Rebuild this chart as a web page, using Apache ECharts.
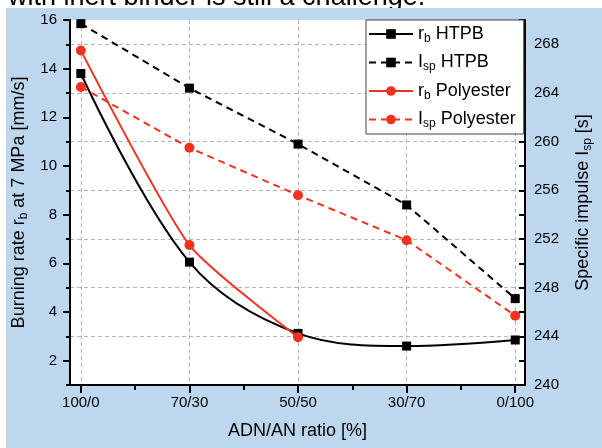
<!DOCTYPE html>
<html><head><meta charset="utf-8">
<script src="https://cdn.jsdelivr.net/npm/echarts@6/dist/echarts.min.js"></script>
<style>html,body{margin:0;padding:0;background:#fff}#c{width:602px;height:448px}</style>
</head><body><div id="c"></div>
<script>
const categories = ['100/0', '70/30', '50/50', '30/70', '0/100'];
const rbHTPB = [13.8, 6.05, 3.12, 2.6, 2.85];
const ispHTPB = [269.7, 264.4, 259.8, 254.8, 247.1];
const rbPoly = [14.75, 6.75, 2.96];
const ispPoly = [264.5, 259.5, 255.6, 251.9, 245.7];
const leftLabels = [2, 4, 6, 8, 10, 12, 14, 16];
const leftMinor = [1, 3, 5, 7, 9, 11, 13, 15];
const rightLabels = [240, 244, 248, 252, 256, 260, 264, 268];
const xMajor = [0, 1, 2, 3, 4];
const xMinor = [0.5, 1.5, 2.5, 3.5];

const FF = "'Liberation Sans', Arial, sans-serif";
const RED = '#f0321e';
const pts = arr => arr.map((v, i) => [i, v]);
const legendNames = {
  'rb HTPB': 'r{s|b} HTPB',
  'Isp HTPB': 'I{s|sp} HTPB',
  'rb Polyester': 'r{s|b} Polyester',
  'Isp Polyester': 'I{s|sp} Polyester'
};
const sub = { fontSize: 12, fontFamily: FF, color: '#000', padding: [9, 0, 0, 0] };

const chart = echarts.init(document.getElementById('c'), null, { renderer: 'canvas' });
chart.setOption({
  animation: false,
  backgroundColor: '#fff',
  graphic: [
    { type: 'text', z: -20, left: 8, top: -16, style: { text: 'with inert binder is still a challenge.', font: '27px ' + FF, fill: '#000' } },
    { type: 'rect', z: -10, shape: { x: 6, y: 8, width: 596, height: 440 }, style: { fill: '#bdd7ee' } }
  ],
  grid: { left: 70, right: 66, top: 20, bottom: 63, show: true, backgroundColor: '#fff', borderWidth: 0 },
  legend: {
    orient: 'vertical', left: 366, top: 20,
    backgroundColor: '#fff', borderColor: '#444', borderWidth: 1,
    padding: [4, 8, 4, 2], itemGap: 8, itemWidth: 44, itemHeight: 12,
    data: ['rb HTPB', 'Isp HTPB', 'rb Polyester', 'Isp Polyester'],
    formatter: n => legendNames[n],
    textStyle: { fontSize: 18, fontFamily: FF, color: '#000', lineHeight: 20, rich: { s: sub } }
  },
  xAxis: [
    {
      type: 'value', min: -0.1, max: 4.09, position: 'bottom',
      name: 'ADN/AN ratio [%]', nameLocation: 'middle', nameGap: 37,
      nameTextStyle: { fontSize: 18, fontFamily: FF, color: '#000' },
      axisLine: { show: true, onZero: false, lineStyle: { color: '#000', width: 2 } },
      axisTick: { show: true, customValues: xMajor, length: 8, lineStyle: { color: '#000', width: 2 } },
      axisLabel: { customValues: xMajor, formatter: v => categories[Math.round(v)], margin: 10, fontSize: 15, fontFamily: FF, color: '#000' },
      splitLine: { show: true, lineStyle: { type: [4, 3], color: '#b5b5b5', width: 1 } }
    },
    {
      type: 'value', min: -0.1, max: 4.09, position: 'bottom',
      axisLine: { show: false, onZero: false },
      axisTick: { show: true, customValues: xMinor, length: 5, lineStyle: { color: '#000', width: 2 } },
      axisLabel: { show: false }, splitLine: { show: false }
    }
  ],
  yAxis: [
    {
      type: 'value', min: 1, max: 16, interval: 1, position: 'left',
      name: 'Burning rate r{s|b} at 7 MPa [mm/s]', nameLocation: 'middle', nameGap: 36, nameRotate: 90,
      nameTextStyle: { fontSize: 18, fontFamily: FF, color: '#000', rich: { s: sub } },
      axisLine: { show: true, onZero: false, lineStyle: { color: '#000', width: 2 } },
      axisTick: { show: true, customValues: leftMinor, length: 4, lineStyle: { color: '#000', width: 2 } },
      axisLabel: { customValues: leftLabels, margin: 13, fontSize: 15, fontFamily: FF, color: '#000' },
      splitLine: { show: true, lineStyle: { type: [4, 3], color: '#b5b5b5', width: 1 } }
    },
    {
      type: 'value', min: 1, max: 16, position: 'left',
      axisLine: { show: false, onZero: false },
      axisTick: { show: true, customValues: leftLabels, length: 7, lineStyle: { color: '#000', width: 2 } },
      axisLabel: { show: false }, splitLine: { show: false }
    },
    {
      type: 'value', min: 240, max: 270, interval: 2, position: 'right',
      name: 'Specific impulse I{s|sp} [s]', nameLocation: 'middle', nameGap: 48, nameRotate: 90,
      nameTextStyle: { fontSize: 18, fontFamily: FF, color: '#000', rich: { s: sub } },
      axisLine: { show: true, onZero: false, lineStyle: { color: '#000', width: 2 } },
      axisTick: { show: true, inside: true, length: 6, lineStyle: { color: '#000', width: 2 } },
      axisLabel: { customValues: rightLabels, margin: 9, fontSize: 15, fontFamily: FF, color: '#000' },
      splitLine: { show: false }
    }
  ],
  series: [
    {
      name: 'rb HTPB', type: 'line', xAxisIndex: 0, yAxisIndex: 0, data: pts(rbHTPB), smooth: 0.35,
      symbol: 'rect', symbolSize: 9, itemStyle: { color: '#000' }, lineStyle: { color: '#000', width: 2 }, z: 3
    },
    {
      name: 'Isp HTPB', type: 'line', xAxisIndex: 0, yAxisIndex: 2, data: pts(ispHTPB),
      symbol: 'rect', symbolSize: 9, itemStyle: { color: '#000' }, lineStyle: { color: '#000', width: 2, type: [7, 5] }, z: 3
    },
    {
      name: 'rb Polyester', type: 'line', xAxisIndex: 0, yAxisIndex: 0, data: pts(rbPoly), smooth: 0.2,
      symbol: 'circle', symbolSize: 10, itemStyle: { color: RED }, lineStyle: { color: RED, width: 2 }, z: 4
    },
    {
      name: 'Isp Polyester', type: 'line', xAxisIndex: 0, yAxisIndex: 2, data: pts(ispPoly),
      symbol: 'circle', symbolSize: 10, itemStyle: { color: RED }, lineStyle: { color: RED, width: 2, type: [7, 5] }, z: 4
    }
  ]
});
</script></body></html>
